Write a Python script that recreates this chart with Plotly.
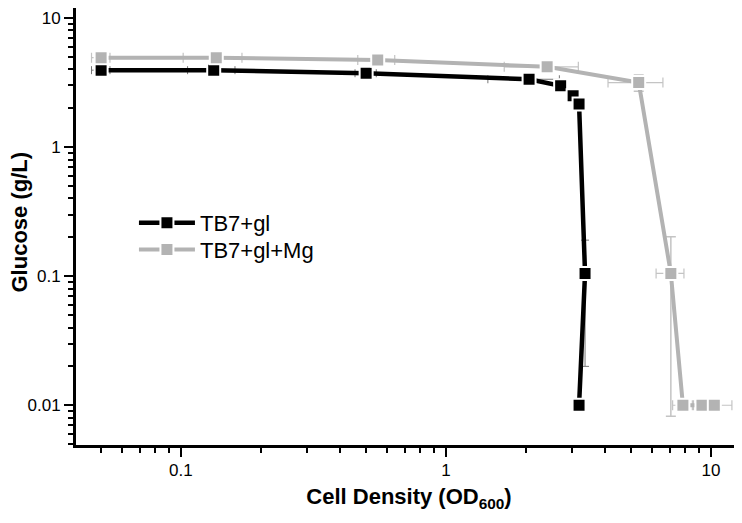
import plotly.graph_objects as go
import math

# TB7+gl (black)
od_gl = [0.05, 0.133, 0.50, 2.06, 2.71, 3.02, 3.18, 3.35, 3.18]
glc_gl = [3.94, 3.94, 3.73, 3.35, 2.98, 2.50, 2.15, 0.105, 0.010]
od_gl_err = [0.004, 0.027, 0.046, 0.62, 0.05, 0.05, 0.05, 0.05, 0.05]
glc_gl_err = [0.05, 0.05, 0.05, 0.05, 0.05, 0.05, 0.05, 0.085, 0.0005]

# TB7+gl+Mg (grey)
od_mg = [0.05, 0.136, 0.553, 2.41, 5.34, 7.06, 7.84, 9.25, 10.3]
glc_mg = [4.92, 4.92, 4.73, 4.18, 3.16, 0.105, 0.010, 0.010, 0.010]
od_mg_err = [0.004, 0.034, 0.088, 0.75, 1.25, 0.85, 0.67, 0.5, 1.7]
glc_mg_err = [0.05, 0.05, 0.05, 0.05, 0.45, 0.0968, 0.0005, 0.0005, 0.0005]

x_ticks = [0.1, 1, 10]
y_ticks = [0.01, 0.1, 1, 10]

FONT = "Liberation Sans, Arial, sans-serif"
GREY = "#b3b3b3"

fig = go.Figure()

fig.add_trace(go.Scatter(
    x=od_gl, y=glc_gl,
    mode="lines+markers",
    name="TB7+gl",
    legend="legend",
    line=dict(color="black", width=4.5),
    marker=dict(symbol="square", size=13, color="black", line=dict(color="white", width=2)),
    error_x=dict(type="data", array=od_gl_err, color="#777777", thickness=1, width=4),
    error_y=dict(type="data", array=glc_gl_err, color="#777777", thickness=1, width=4),
))

fig.add_trace(go.Scatter(
    x=od_mg, y=glc_mg,
    mode="lines+markers",
    name="TB7+gl+Mg",
    legend="legend2",
    line=dict(color=GREY, width=4),
    marker=dict(symbol="square", size=13, color=GREY, line=dict(color="white", width=2)),
    error_x=dict(type="data", array=od_mg_err, color="#c4c4c4", thickness=1.2, width=5),
    error_y=dict(type="data", array=glc_mg_err, color="#c4c4c4", thickness=1.5, width=5),
))

axis_common = dict(
    type="log",
    automargin=False,
    showgrid=False,
    zeroline=False,
    showline=True,
    linecolor="black",
    linewidth=3,
    ticks="outside",
    ticklen=9,
    tickwidth=2,
    tickcolor="black",
    ticklabeloverflow="allow",
    tickfont=dict(size=17, color="black", family=FONT),
    minor=dict(ticks="outside", ticklen=5, tickwidth=2, tickcolor="black", dtick="D1", showgrid=False),
)

legend_common = dict(
    xanchor="left", yanchor="middle",
    font=dict(size=22, family=FONT, color="black"),
    bgcolor="rgba(0,0,0,0)",
    itemwidth=56,
)

# the page body adds an 8px margin, so the figure is sized to fill the rest
fig.update_layout(
    width=734,
    height=515,
    margin=dict(l=68, r=0, t=0, b=78),
    plot_bgcolor="white",
    paper_bgcolor="white",
    font=dict(family=FONT, color="black"),
    xaxis=dict(
        axis_common,
        range=[math.log10(0.0402), math.log10(13.1)],
        tickvals=x_ticks,
        ticktext=[str(v) for v in x_ticks],
        ticklabelstandoff=-1,
        title=dict(text="<b>Cell Density (OD<sub>600</sub>)</b>", font=dict(size=22, family=FONT), standoff=10),
    ),
    yaxis=dict(
        axis_common,
        range=[math.log10(0.00492), math.log10(11.94)],
        tickvals=y_ticks,
        ticktext=[str(v) for v in y_ticks],
    ),
    legend=dict(legend_common, x=0.087, y=0.508),
    legend2=dict(legend_common, x=0.087, y=0.447),
    annotations=[dict(
        text="<b>Glucose (g/L)</b>",
        xref="paper", yref="paper",
        x=-0.085, y=0.51,
        xanchor="center", yanchor="middle",
        textangle=-90,
        showarrow=False,
        font=dict(size=22, family=FONT, color="black"),
    )],
    showlegend=True,
)

fig.write_html("out.html")
